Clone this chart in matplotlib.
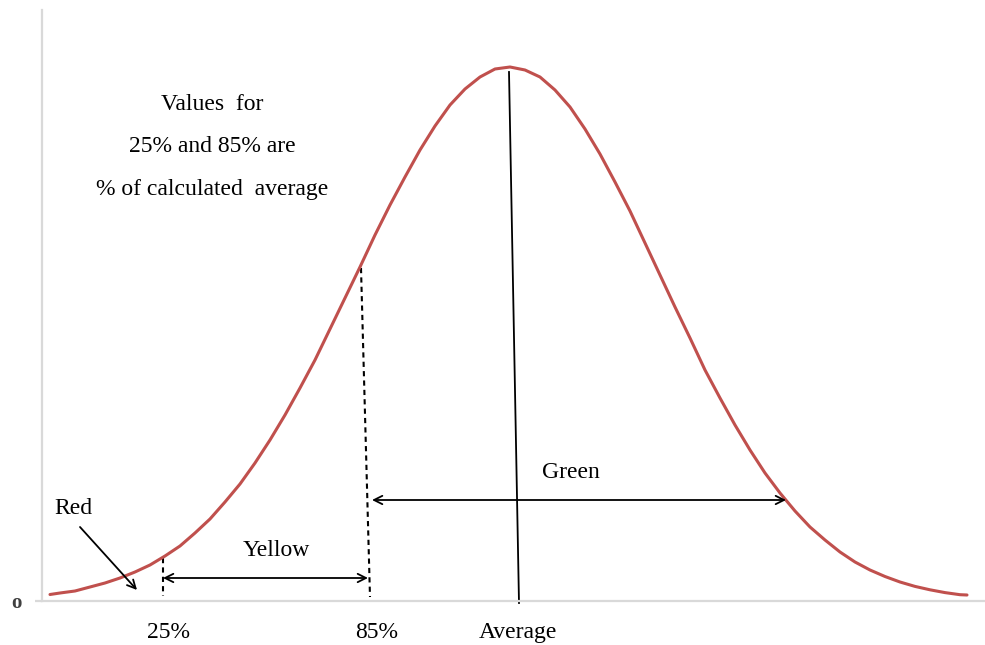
import matplotlib
matplotlib.use("Agg")
import matplotlib.pyplot as plt

# ---- data (x: horizontal units, y: height units) ----
curve_x = [8, 18, 33, 48, 63, 78, 93, 108, 123, 138, 153, 168, 183, 198, 213,
           228, 243, 258, 273, 288, 303, 318, 333, 348, 363, 378, 393, 408, 423,
           438, 453, 468,
           483, 498, 513, 528, 543, 558, 573, 588, 603, 618, 633, 648, 663, 678,
           693, 708, 723, 738, 753, 768, 783, 798, 813, 828, 843, 858, 873, 888,
           903, 918, 925]
curve_y = [6.5, 8, 10, 14, 18, 23, 29, 36, 45, 55, 68, 82, 99, 117, 138,
           161, 186, 213, 241, 272, 303, 334, 366, 396, 424, 451, 475, 496, 512,
           524, 532, 534,
           531, 524, 511, 494, 472, 447, 419, 390, 358, 326, 294, 263, 231, 203,
           176, 151, 128, 108, 90, 74, 61, 49, 39, 31, 24.5, 19, 14.6, 11.2,
           8.4, 6.3, 6]

p25_x, p25_top = 121, 43
p85_top_x, p85_top = 319, 333
p85_bot_x, p85_bot = 328, 4
avg_top_x, avg_top = 467, 529
avg_bot_x, avg_bot = 477, -2
yellow_y, yellow_x0, yellow_x1 = 23, 121, 326
green_y, green_x0, green_x1 = 101, 330, 744

tick_pos = [126, 335, 476]
tick_labels = ["25%", "85%", "Average"]
note_lines = ["Values  for", "25% and 85% are", "% of calculated  average"]

W, H = 985, 645
fig = plt.figure(figsize=(W / 100, H / 100), dpi=100)
ax = fig.add_axes([42 / W, 44 / H, 943 / W, 591 / H])
ax.set_xlim(0, 943)
ax.set_ylim(0, 591)

serif = "Liberation Serif"
fs = 17
gray = "#D9D9D9"

for s in ["top", "right"]:
    ax.spines[s].set_visible(False)
for s in ["left", "bottom"]:
    ax.spines[s].set_color(gray)
    ax.spines[s].set_linewidth(1.6)

ax.set_xticks(tick_pos)
ax.set_xticklabels(tick_labels, fontfamily=serif, fontsize=fs)
ax.tick_params(axis="x", length=0, pad=15)
ax.set_yticks([0])
ax.set_yticklabels(["o"], fontfamily=serif, fontsize=15, fontweight="bold",
                   color="#404040")
ax.tick_params(axis="y", length=5, width=1.6, color=gray, pad=10)

# curve
ax.plot(curve_x, curve_y, color="#C0504D", lw=2.2, solid_capstyle="round",
        solid_joinstyle="round", zorder=3)

# dashed lines
ax.plot([p25_x, p25_x], [p25_top, 5], color="black", lw=1.5, ls=(0, (2.5, 2)))
ax.plot([p85_top_x, p85_bot_x], [p85_top, p85_bot], color="black", lw=1.5,
        ls=(0, (2.5, 2)))
# average line
ax.plot([avg_top_x, avg_bot_x], [avg_top, avg_bot], color="black", lw=1.3, clip_on=False)

arrow = dict(arrowstyle="<->,head_length=0.6,head_width=0.3", color="black", lw=1.3,
             shrinkA=0, shrinkB=0)
ax.annotate("", xy=(yellow_x1, yellow_y), xytext=(yellow_x0, yellow_y), arrowprops=arrow)
ax.annotate("", xy=(green_x1, green_y), xytext=(green_x0, green_y), arrowprops=arrow)

ax.annotate("", xy=(95, 11), xytext=(38, 74),
            arrowprops=dict(arrowstyle="->,head_length=0.6,head_width=0.3",
                            color="black", lw=1.3, shrinkA=0, shrinkB=0))

ax.text(31, 93, "Red", fontfamily=serif, fontsize=fs, ha="center", va="center")
ax.text(234, 50, "Yellow", fontfamily=serif, fontsize=fs, ha="center", va="center")
ax.text(529, 129, "Green", fontfamily=serif, fontsize=fs, ha="center", va="center")
for yy, line in zip([497, 454, 412], note_lines):
    ax.text(170, yy, line, fontfamily=serif, fontsize=fs, ha="center", va="center")

fig.savefig("out.png", dpi=100)
